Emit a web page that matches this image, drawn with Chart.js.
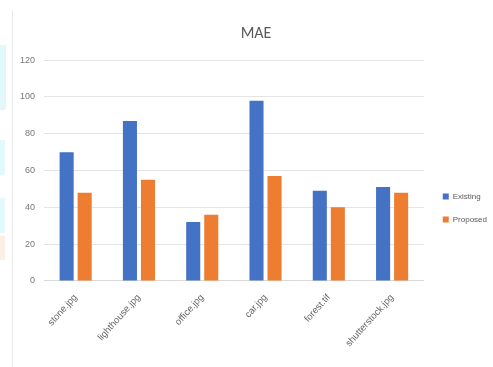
<!DOCTYPE html>
<html>
<head>
<meta charset="utf-8">
<title>MAE</title>
<script src="https://cdn.jsdelivr.net/npm/chart.js@4/dist/chart.umd.min.js"></script>
<style>
  html, body { margin: 0; padding: 0; background: #fff; }
  #wrap { width: 493px; height: 367px; }
</style>
</head>
<body>
<div id="wrap"><canvas id="chart" width="493" height="367"></canvas></div>
<script>
const categories = ["stone.jpg", "lighthouse.jpg", "office.jpg", "car.jpg", "forest.tif", "shutterstock.jpg"];
const existing = [70, 87, 32, 98, 49, 51];
const proposed = [48, 55, 36, 57, 40, 48];
const yTicks = [0, 20, 40, 60, 80, 100, 120];

// faint frame edge and coloured scraps at the left side of the sheet
const sheetEdge = {
  id: "sheetEdge",
  afterLayout(chart) {
    // sit the legend a little lower and further right, nudge the title over the plot
    const lg = chart.legend;
    lg.top += 22;
    lg.bottom += 22;
    lg.left += 4;
    lg.right += 4;
    const tt = chart.titleBlock;
    tt.left += 4;
    tt.right += 4;
  },
  beforeDraw(chart) {
    const c = chart.ctx;
    c.save();
    c.fillStyle = "#fff";
    c.fillRect(0, 0, chart.width, chart.height);
    c.fillStyle = "#e2f8fb";
    c.fillRect(0, 45, 6, 65);
    c.fillRect(0, 140, 5, 35);
    c.fillRect(0, 198, 5, 35);
    c.fillStyle = "#fdeee4";
    c.fillRect(0, 236, 5, 24);
    c.strokeStyle = "#e8e8e8";
    c.lineWidth = 1;
    c.beginPath();
    c.moveTo(12.5, 10);
    c.lineTo(12.5, chart.height);
    c.stroke();
    c.restore();
  }
};

new Chart(document.getElementById("chart"), {
  type: "bar",
  data: {
    labels: categories,
    datasets: [
      { label: "Existing", data: existing, backgroundColor: "#4472c4", barPercentage: 0.78, categoryPercentage: 0.57 },
      { label: "Proposed", data: proposed, backgroundColor: "#ed7d31", barPercentage: 0.78, categoryPercentage: 0.57 }
    ]
  },
  options: {
    responsive: false,
    animation: false,
    layout: { padding: { left: 11, right: 0, top: 20, bottom: 15 } },
    plugins: {
      title: {
        display: true,
        text: "MAE",
        color: "#595959",
        font: { family: "Calibri, Carlito, 'Liberation Sans', sans-serif", size: 16, weight: "normal" },
        padding: { top: 4, bottom: 17 }
      },
      legend: {
        position: "right",
        labels: {
          boxWidth: 6,
          boxHeight: 6,
          padding: 15,
          color: "#595959",
          font: { family: "'Liberation Sans', sans-serif", size: 8 }
        }
      },
      tooltip: { enabled: false }
    },
    scales: {
      x: {
        grid: { display: false },
        border: { color: "#d9d9d9" },
        ticks: {
          color: "#666",
          minRotation: 48,
          maxRotation: 48,
          font: { family: "'Liberation Sans', sans-serif", size: 9.5 }
        }
      },
      y: {
        min: 0,
        max: 120,
        afterBuildTicks(axis) { axis.ticks = yTicks.map(v => ({ value: v })); },
        grid: { color: "#e4e4e4", drawTicks: false },
        border: { display: false },
        ticks: {
          color: "#777",
          padding: 9,
          font: { family: "'Liberation Sans', sans-serif", size: 9 }
        }
      }
    }
  },
  plugins: [sheetEdge]
});
</script>
</body>
</html>
